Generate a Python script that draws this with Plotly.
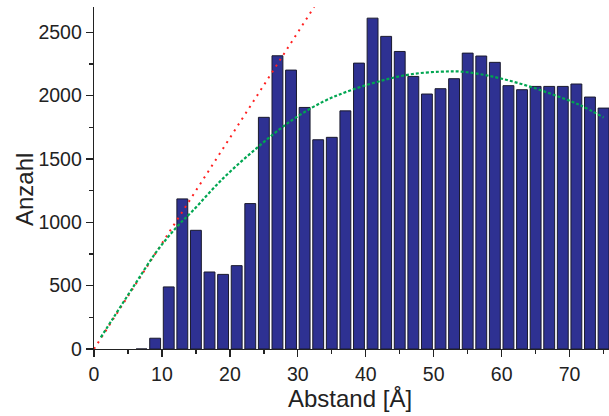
import plotly.graph_objects as go

# Histogram: bin centres (Å) and counts
bin_centers = [7, 9, 11, 13, 15, 17, 19, 21, 23, 25, 27, 29, 31, 33, 35, 37, 39, 41,
               43, 45, 47, 49, 51, 53, 55, 57, 59, 61, 63, 65, 67, 69, 71, 73, 75]
counts = [0, 85, 490, 1185, 937, 608, 589, 658, 1148, 1829, 2315, 2202, 1907, 1652,
          1671, 1880, 2257, 2612, 2468, 2349, 2152, 2013, 2055, 2134, 2336, 2313,
          2263, 2079, 2047, 2073, 2073, 2073, 2092, 1989, 1902]

# Red dotted straight line
red_x = [0, 32.4]
red_y = [0, 2700]

# Green dashed curve
green_x = [1.0, 2.8, 5.8, 9.2, 12.2, 14.4, 19.0, 23.9, 28.8, 33.7, 37.6, 42.1, 46.5,
           50.9, 54.3, 58.7, 63.1, 67.5, 71.5, 75.0]
green_y = [92, 242, 492, 768, 965, 1084, 1347, 1584, 1794, 1952, 2039, 2115, 2168,
           2189, 2189, 2150, 2089, 2010, 1926, 1828]

x_title = "Abstand [Å]"
y_title = "Anzahl"

FONT = "Liberation Sans, Arial, sans-serif"

fig = go.Figure()
fig.add_trace(go.Bar(
    x=bin_centers, y=counts, width=1.6,
    marker=dict(color="#2E3192", line=dict(color="#1a1a2e", width=1)),
    showlegend=False, hoverinfo="skip",
))
fig.add_trace(go.Scatter(
    x=red_x, y=red_y, mode="lines",
    line=dict(color="#ff2020", width=2, dash="2px,5px"),
    showlegend=False, hoverinfo="skip",
))
fig.add_trace(go.Scatter(
    x=green_x, y=green_y, mode="lines", line_shape="spline",
    line=dict(color="#00a651", width=2.2, dash="3px,2px"),
    showlegend=False, hoverinfo="skip",
))

fig.update_layout(
    width=609, height=416,
    margin=dict(l=94, r=0, t=7, b=67),
    plot_bgcolor="white", paper_bgcolor="white",
    font=dict(family=FONT, color="#222222", size=19),
    bargap=0.2,
    hovermode=False,
    xaxis=dict(
        range=[0, 75.8], showgrid=False, zeroline=False,
        showline=True, linecolor="#222222", linewidth=1.3,
        ticks="outside", ticklen=7, tickwidth=1.3, tickcolor="#222222",
        tick0=0, dtick=10, tickfont=dict(size=19.5, family=FONT, color="#222222"),
        minor=dict(ticks="outside", ticklen=4, dtick=5, tick0=0, tickcolor="#222222", tickwidth=1.3),
    ),
    yaxis=dict(
        range=[0, 2700], showgrid=False, zeroline=False,
        showline=True, linecolor="#222222", linewidth=1.3,
        ticks="outside", ticklen=7, tickwidth=1.3, tickcolor="#222222",
        tick0=0, dtick=500, tickfont=dict(size=19.5, family=FONT, color="#222222"),
        minor=dict(ticks="outside", ticklen=4, dtick=250, tick0=0, tickcolor="#222222", tickwidth=1.3),
    ),
    annotations=[
        dict(text=x_title, xref="paper", yref="paper", x=(350 - 94) / 515, y=-(398 - 349) / 342,
             xanchor="center", yanchor="middle", showarrow=False,
             font=dict(size=24, family=FONT, color="#222222")),
        dict(text=y_title, xref="paper", yref="paper", x=-(94 - 24) / 515, y=(349 - 190) / 342,
             xanchor="center", yanchor="middle", showarrow=False, textangle=-90,
             font=dict(size=24, family=FONT, color="#222222")),
    ],
)

fig.write_html("out.html",
               config={"displayModeBar": False, "staticPlot": True},
               post_script="document.body.style.margin='0';document.body.style.overflow='hidden';")
